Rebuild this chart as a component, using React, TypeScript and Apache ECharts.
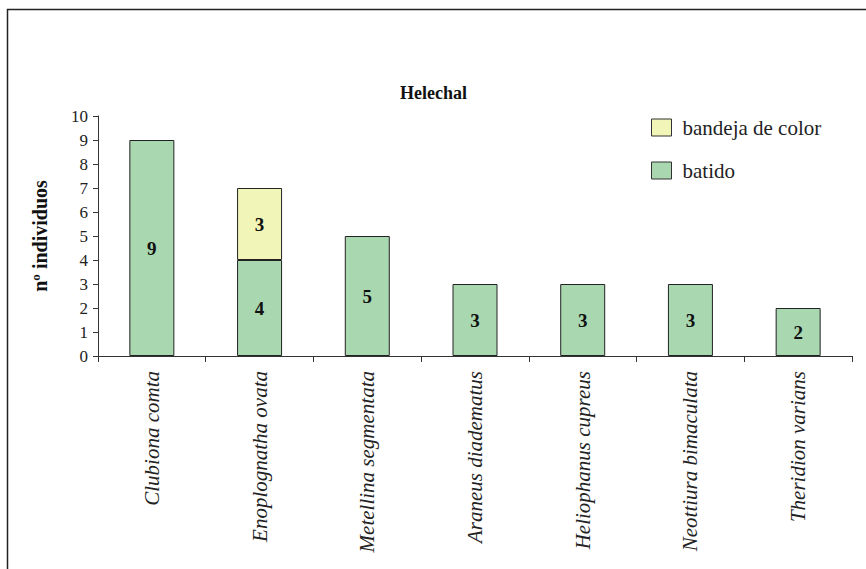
import React, { useEffect, useRef } from "react";
import * as echarts from "echarts";

const categories = [
  "Clubiona comta",
  "Enoplognatha ovata",
  "Metellina segmentata",
  "Araneus diadematus",
  "Heliophanus cupreus",
  "Neottiura bimaculata",
  "Theridion varians",
];
const batido = [9, 4, 5, 3, 3, 3, 2];
const bandejaDeColor: (number | null)[] = [null, 3, null, null, null, null, null];
const yTicks = [0, 1, 2, 3, 4, 5, 6, 7, 8, 9, 10];

const FONT = "Liberation Serif, serif";

export default function App() {
  const ref = useRef<HTMLDivElement>(null);
  useEffect(() => {
    if (!ref.current) return;
    const chart = echarts.init(ref.current, null, { renderer: "svg" });
    const labelCfg = {
      show: true,
      position: "inside",
      fontFamily: FONT,
      fontSize: 19,
      fontWeight: "bold",
      color: "#111",
    };
    chart.setOption({
      animation: false,
      backgroundColor: "#fff",
      textStyle: { fontFamily: FONT },
      graphic: [
        {
          type: "polyline",
          shape: { points: [[7.5, 569], [7.5, 9.5], [866, 9.5]] },
          style: { stroke: "#222", lineWidth: 1.5, fill: "none" },
          silent: true,
        },
        {
          type: "text",
          left: 400,
          top: 84,
          style: {
            text: "Helechal",
            font: `bold 18px ${FONT}`,
            fill: "#111",
          },
        },
      ],
      legend: {
        orient: "vertical",
        left: 651,
        top: 117,
        padding: 0,
        itemWidth: 20,
        itemHeight: 17,
        itemGap: 22,
        data: ["bandeja de color", "batido"],
        textStyle: { fontFamily: FONT, fontSize: 21, color: "#222", padding: [0, 0, 0, 6] },
        icon: "rect",
        itemStyle: { borderColor: "#333", borderWidth: 1 },
      },
      grid: { left: 98, right: 14, top: 116, bottom: 213, containLabel: false },
      xAxis: {
        type: "category",
        data: categories,
        axisLine: { lineStyle: { color: "#333", width: 1 } },
        axisTick: { show: true, length: 6, lineStyle: { color: "#333" } },
        axisLabel: {
          rotate: 90,
          margin: 15,
          interval: 0,
          fontFamily: FONT,
          fontStyle: "italic",
          fontSize: 21,
          color: "#222",
        },
      },
      yAxis: {
        type: "value",
        min: 0,
        max: 10,
        interval: 1,
        name: "nº individuos",
        nameLocation: "middle",
        nameGap: 48,
        nameTextStyle: { fontFamily: FONT, fontSize: 20, fontWeight: "bold", color: "#111" },
        splitLine: { show: false },
        axisLine: { show: true, lineStyle: { color: "#333" } },
        axisTick: { show: true, length: 5, lineStyle: { color: "#333" } },
        axisLabel: {
          margin: 10,
          fontFamily: FONT,
          fontSize: 17,
          color: "#222",
          formatter: (v: number) => (yTicks.includes(v) ? String(v) : ""),
        },
      },
      series: [
        {
          name: "batido",
          type: "bar",
          stack: "total",
          data: batido,
          barWidth: 45,
          itemStyle: { color: "#a8d7b0", borderColor: "#222", borderWidth: 1 },
          label: labelCfg,
        },
        {
          name: "bandeja de color",
          type: "bar",
          stack: "total",
          data: bandejaDeColor,
          barWidth: 45,
          itemStyle: { color: "#f1f5b8", borderColor: "#222", borderWidth: 1 },
          label: labelCfg,
        },
      ],
    });
    return () => chart.dispose();
  }, []);
  return (
    <div
      ref={ref}
      style={{ position: "absolute", left: 0, top: 0, width: 866, height: 569 }}
    />
  );
}
